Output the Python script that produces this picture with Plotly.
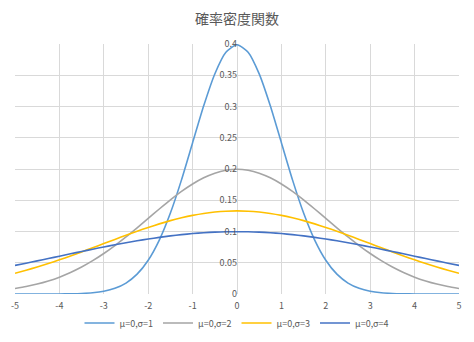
import plotly.graph_objects as go

x_vals = [-5.0, -4.75, -4.5, -4.25, -4.0, -3.75, -3.5, -3.25, -3.0, -2.75, -2.5, -2.25, -2.0, -1.75, -1.5, -1.25, -1.0, -0.75, -0.5, -0.25,
          0.0, 0.25, 0.5, 0.75, 1.0, 1.25, 1.5, 1.75, 2.0, 2.25, 2.5, 2.75, 3.0, 3.25, 3.5, 3.75, 4.0, 4.25, 4.5, 4.75, 5.0]

sigma1 = [0.0000, 0.0000, 0.0000, 0.0001, 0.0001, 0.0004, 0.0009, 0.0020, 0.0044, 0.0091, 0.0175, 0.0317, 0.0540, 0.0863, 0.1295, 0.1826, 0.2420, 0.3011, 0.3521, 0.3867,
          0.3989, 0.3867, 0.3521, 0.3011, 0.2420, 0.1826, 0.1295, 0.0863, 0.0540, 0.0317, 0.0175, 0.0091, 0.0044, 0.0020, 0.0009, 0.0004, 0.0001, 0.0001, 0.0000, 0.0000, 0.0000]

sigma2 = [0.0088, 0.0119, 0.0159, 0.0209, 0.0270, 0.0344, 0.0431, 0.0533, 0.0648, 0.0775, 0.0913, 0.1059, 0.1210, 0.1360, 0.1506, 0.1641, 0.1760, 0.1859, 0.1933, 0.1979,
          0.1995, 0.1979, 0.1933, 0.1859, 0.1760, 0.1641, 0.1506, 0.1360, 0.1210, 0.1059, 0.0913, 0.0775, 0.0648, 0.0533, 0.0431, 0.0344, 0.0270, 0.0209, 0.0159, 0.0119, 0.0088]

sigma3 = [0.0332, 0.0380, 0.0432, 0.0488, 0.0547, 0.0609, 0.0673, 0.0740, 0.0807, 0.0874, 0.0940, 0.1004, 0.1065, 0.1122, 0.1174, 0.1219, 0.1258, 0.1289, 0.1311, 0.1325,
          0.1330, 0.1325, 0.1311, 0.1289, 0.1258, 0.1219, 0.1174, 0.1122, 0.1065, 0.1004, 0.0940, 0.0874, 0.0807, 0.0740, 0.0673, 0.0609, 0.0547, 0.0488, 0.0432, 0.0380, 0.0332]

sigma4 = [0.0457, 0.0493, 0.0530, 0.0567, 0.0605, 0.0643, 0.0680, 0.0717, 0.0753, 0.0787, 0.0820, 0.0851, 0.0880, 0.0906, 0.0930, 0.0950, 0.0967, 0.0980, 0.0990, 0.0995,
          0.0997, 0.0995, 0.0990, 0.0980, 0.0967, 0.0950, 0.0930, 0.0906, 0.0880, 0.0851, 0.0820, 0.0787, 0.0753, 0.0717, 0.0680, 0.0643, 0.0605, 0.0567, 0.0530, 0.0493, 0.0457]

series_names = ["μ=0,σ=1", "μ=0,σ=2", "μ=0,σ=3", "μ=0,σ=4"]
series_colors = ["#5B9BD5", "#A5A5A5", "#FFC000", "#4472C4"]

x_tick_vals = [-5, -4, -3, -2, -1, 0, 1, 2, 3, 4, 5]
x_tick_text = ["-5", "-4", "-3", "-2", "-1", "0", "1", "2", "3", "4", "5"]
y_tick_vals = [0, 0.05, 0.1, 0.15, 0.2, 0.25, 0.3, 0.35, 0.4]
y_tick_text = ["0", "0.05", "0.1", "0.15", "0.2", "0.25", "0.3", "0.35", "0.4"]

fig = go.Figure()
for name, ys, col in zip(series_names, [sigma1, sigma2, sigma3, sigma4], series_colors):
    fig.add_trace(go.Scatter(x=x_vals, y=ys, name=name, mode="lines",
                             line=dict(color=col, width=1.6, shape="spline", smoothing=0.6)))

font_family = "Noto Sans CJK JP, Noto Sans, sans-serif"
fig.update_layout(
    width=474, height=342,
    margin=dict(l=15, r=15, t=44, b=48, autoexpand=False),
    paper_bgcolor="white", plot_bgcolor="white",
    font=dict(family=font_family, size=9, color="#595959"),
    title=dict(text="確率密度関数", x=0.5, xanchor="center", y=1 - 19 / 342, yanchor="middle",
               font=dict(size=14, color="#595959", family=font_family)),
    showlegend=True,
    legend=dict(orientation="h", x=0.5, xanchor="center", yref="container",
                y=(342 - 323) / 342, yanchor="middle",
                font=dict(size=9, color="#595959"), itemwidth=30, tracegroupgap=0),
    xaxis=dict(range=[-5, 5], tickvals=x_tick_vals, ticktext=x_tick_text, showgrid=True,
               gridcolor="#D9D9D9", gridwidth=1, zeroline=False, showline=False, ticks="",
               automargin=False, ticklabelstandoff=5,
               tickfont=dict(size=9, color="#595959")),
    yaxis=dict(range=[0, 0.4], tickvals=y_tick_vals, ticktext=y_tick_text, showgrid=True,
               gridcolor="#D9D9D9", gridwidth=1, zeroline=False, showline=False, ticks="",
               anchor="free", position=0.5, side="left", automargin=False,
               tickfont=dict(size=9, color="#595959")),
)

fig.write_html("out.html")
